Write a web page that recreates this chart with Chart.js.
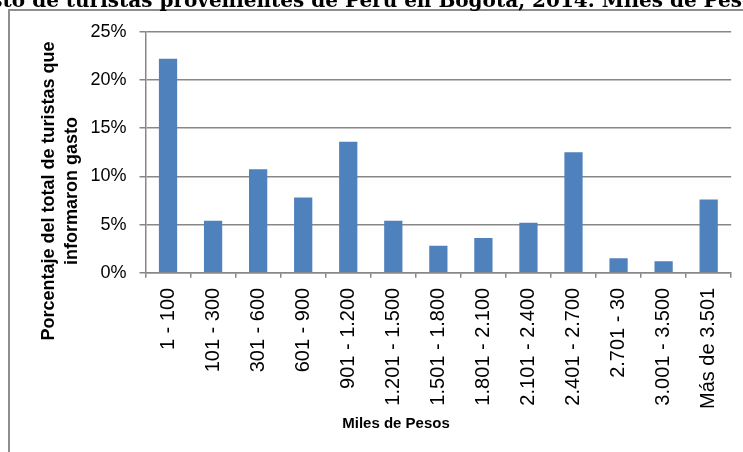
<!DOCTYPE html>
<html><head><meta charset="utf-8">
<script src="https://cdn.jsdelivr.net/npm/chart.js@4"></script>
<style>html,body{margin:0;padding:0;background:#fff;overflow:hidden}#wrap{position:relative;width:743px;height:452px}</style>
</head><body><div id="wrap"><canvas id="c" width="743" height="452"></canvas></div>
<script>
const titleText = 'Gasto de turistas provenientes de Perú en Bogotá, 2014. Miles de Pesos';
const xTitle = 'Miles de Pesos';
const yTitleLines = ['Porcentaje del total de turistas que', 'informaron gasto'];
const categories = ['1 - 100','101 - 300','301 - 600','601 - 900','901 - 1.200','1.201 - 1.500','1.501 - 1.800','1.801 - 2.100','2.101 - 2.400','2.401 - 2.700','2.701 - 30','3.001 - 3.500','Más de 3.501'];
const values = [22.2, 5.4, 10.75, 7.8, 13.6, 5.4, 2.8, 3.6, 5.2, 12.5, 1.5, 1.2, 7.6];
const yTickLabels = ['0%','5%','10%','15%','20%','25%'];

const GRID = '#878787';

const decor = {
  id: 'decor',
  afterDraw(chart) {
    const ctx = chart.ctx;
    ctx.save();
    // outer frame (clipped by the window)
    ctx.strokeStyle = '#8e8e8e';
    ctx.lineWidth = 2;
    ctx.beginPath();
    ctx.moveTo(9, 460);
    ctx.lineTo(9, 10);
    ctx.lineTo(760, 10);
    ctx.stroke();
    // title (partly cut off at the top and sides)
    ctx.fillStyle = '#000';
    ctx.font = 'bold 20px "DejaVu Serif"';
    ctx.textAlign = 'center';
    ctx.textBaseline = 'alphabetic';
    ctx.fillText(titleText, 364, 7);
    // x axis title
    ctx.font = 'bold 15px "Liberation Sans"';
    ctx.fillText(xTitle, 396, 428);
    // y axis title
    ctx.font = 'bold 18px "Liberation Sans"';
    ctx.translate(54, 191);
    ctx.rotate(-Math.PI / 2);
    ctx.fillText(yTitleLines[0], 0, 0);
    ctx.fillText(yTitleLines[1], 0, 23);
    ctx.restore();
  }
};

new Chart(document.getElementById('c'), {
  type: 'bar',
  data: {
    labels: categories,
    datasets: [{
      data: values,
      backgroundColor: '#4F81BD',
      borderWidth: 0,
      barPercentage: 0.405,
      categoryPercentage: 1
    }]
  },
  options: {
    responsive: false,
    animation: false,
    devicePixelRatio: 1,
    layout: { padding: { left: 0, top: 31.7, right: 8.7, bottom: 0 } },
    plugins: { legend: { display: false }, tooltip: { enabled: false }, title: { display: false } },
    scales: {
      x: {
        afterFit(s) { s.height = 452 - 272.8; },
        grid: { display: true, drawOnChartArea: false, drawTicks: true, tickLength: 5, color: GRID, lineWidth: 1.5, offset: true },
        border: { display: true, color: GRID, width: 1.5 },
        ticks: { color: '#000', font: { family: 'Liberation Sans', size: 20 }, minRotation: 90, maxRotation: 90, autoSkip: false, padding: 10 }
      },
      y: {
        min: 0, max: 25,
        afterFit(s) { s.width = 145.5; },
        grid: { color: GRID, lineWidth: 1.5, tickLength: 6, drawTicks: true },
        border: { display: true, color: GRID, width: 1.5 },
        ticks: { stepSize: 5, color: '#000', font: { family: 'Liberation Sans', size: 18 }, padding: 13,
          callback: (v, i) => yTickLabels[i] }
      }
    }
  },
  plugins: [decor]
});
</script>
</body></html>
